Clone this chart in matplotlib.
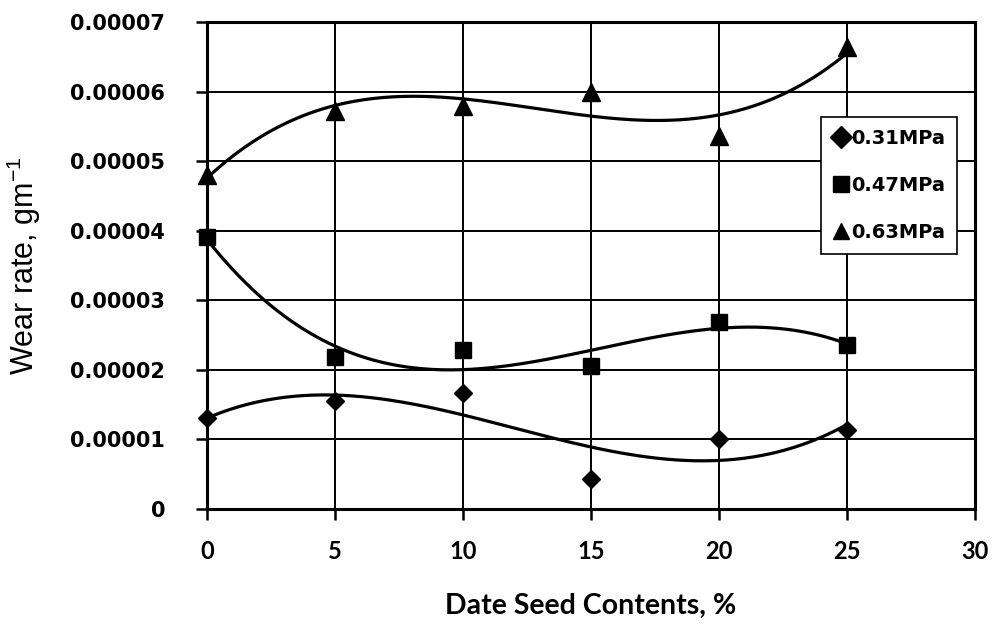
import matplotlib
matplotlib.use("Agg")
import matplotlib.pyplot as plt
import numpy as np
from matplotlib.ticker import FuncFormatter

# data
contents = [0, 5, 10, 15, 20, 25]
wear_031 = [1.31e-5, 1.55e-5, 1.67e-5, 0.43e-5, 1.00e-5, 1.14e-5]
wear_047 = [3.91e-5, 2.18e-5, 2.28e-5, 2.05e-5, 2.69e-5, 2.36e-5]
wear_063 = [4.80e-5, 5.72e-5, 5.80e-5, 6.00e-5, 5.36e-5, 6.64e-5]
series_labels = ["0.31MPa", "0.47MPa", "0.63MPa"]

x_ticks = [0, 5, 10, 15, 20, 25, 30]
y_ticks = [0, 1e-5, 2e-5, 3e-5, 4e-5, 5e-5, 6e-5, 7e-5]

fig = plt.figure(figsize=(9.93, 6.33), dpi=100)
ax = fig.add_axes([0.2085, 0.1959, 0.7734, 0.7693])

markers = ["D", "s", "^"]
sizes = [9, 12, 13]
x = np.asarray(contents, dtype=float)
xs = np.linspace(x.min(), x.max(), 200)
for values, label, marker, ms in zip([wear_031, wear_047, wear_063], series_labels, markers, sizes):
    y = np.asarray(values, dtype=float)
    ax.plot(x, y, ls="none", marker=marker, ms=ms, color="black", label=label, zorder=4, clip_on=False)
    # cubic trend line, like the spreadsheet polynomial trendline
    coef = np.polyfit(x, y, 3)
    ax.plot(xs, np.polyval(coef, xs), color="black", lw=2.3, zorder=3)

ax.set_xlim(0, 30)
ax.set_ylim(0, 7e-5)
ax.set_xticks(x_ticks)
ax.set_yticks(y_ticks)
ax.yaxis.set_major_formatter(FuncFormatter(lambda v, _: "0" if v == 0 else f"{v:.5f}"))
ax.grid(True, color="black", lw=1.4)
ax.set_axisbelow(True)
for spine in ax.spines.values():
    spine.set_linewidth(2.2)
ax.tick_params(direction="out", length=8, width=1.8, color="black")
ax.tick_params(axis="y", pad=22)
ax.tick_params(axis="x", pad=14)

for lab in ax.get_yticklabels():
    lab.set_fontfamily("DejaVu Sans")
    lab.set_fontweight("bold")
    lab.set_fontsize(15)
for lab in ax.get_xticklabels():
    lab.set_fontfamily("Lato")
    lab.set_fontweight("bold")
    lab.set_fontsize(17)

ax.set_xlabel("Date Seed Contents, %", fontfamily="Lato", fontweight="bold", fontsize=20.5, labelpad=22)
ax.set_ylabel(r"Wear rate, gm$^{\mathregular{-1}}$", fontfamily="Liberation Sans", fontsize=22, labelpad=20)

leg = ax.legend(loc="upper right", bbox_to_anchor=(0.9766, 0.805), borderaxespad=0,
                prop={"family": "DejaVu Sans", "weight": "bold", "size": 14},
                frameon=True, fancybox=False, edgecolor="black", framealpha=1,
                handlelength=0.8, handletextpad=0.15, labelspacing=1.45, borderpad=0.6)
leg.get_frame().set_linewidth(1.2)
for h in leg.legend_handles:
    h.set_markersize(11)

fig.savefig("out.png", dpi=100)
